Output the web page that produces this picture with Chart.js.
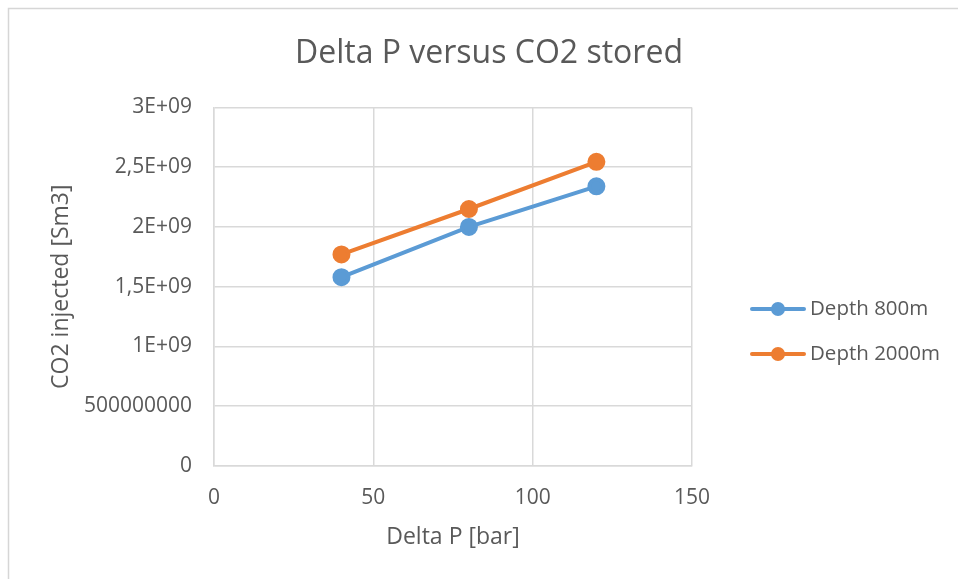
<!DOCTYPE html>
<html>
<head>
<meta charset="utf-8">
<script src="https://cdn.jsdelivr.net/npm/chart.js@4/dist/chart.umd.min.js"></script>
<style>
  html, body { margin: 0; padding: 0; background: #fff; }
  #wrap { position: relative; width: 958px; height: 579px; }
</style>
</head>
<body>
<div id="wrap"><canvas id="chart" width="958" height="579"></canvas></div>
<script>
// Pressure difference (bar) on the x axis
const deltaP = [40, 80, 120];
// CO2 injected (Sm3) for each well depth
const depth800 = [1.58e9, 2.0e9, 2.34e9];
const depth2000 = [1.77e9, 2.15e9, 2.545e9];
const seriesNames = ['Depth 800m', 'Depth 2000m'];
const seriesColors = ['#5B9BD5', '#ED7D31'];
// Y tick labels in Excel's comma-decimal style, from 0 upwards
const yTickLabels = ['0', '500000000', '1E+09', '1,5E+09', '2E+09', '2,5E+09', '3E+09'];
const xTickLabels = ['0', '50', '100', '150'];

const FONT = '"Open Sans", "Liberation Sans", sans-serif';
const TEXT = '#595959';
const GRID = '#d9d9d9';

const toPoints = (ys) => deltaP.map((x, i) => ({ x, y: ys[i] }));

// White page with a thin frame on the top and left edges
const framePlugin = {
  id: 'frame',
  beforeDraw(chart) {
    const ctx = chart.ctx;
    ctx.save();
    ctx.fillStyle = '#ffffff';
    ctx.fillRect(0, 0, chart.width, chart.height);
    ctx.strokeStyle = '#d6d6d6';
    ctx.lineWidth = 1.5;
    ctx.beginPath();
    ctx.moveTo(8.5, chart.height);
    ctx.lineTo(8.5, 8.5);
    ctx.lineTo(chart.width, 8.5);
    ctx.stroke();
    ctx.restore();
  }
};

// Legend at the right: line with a marker, then the series name
const sideLegend = {
  id: 'sideLegend',
  afterDraw(chart) {
    const ctx = chart.ctx;
    const x0 = 752, x1 = 804, textX = 810;
    const rows = [309, 354];
    ctx.save();
    chart.data.datasets.forEach((ds, i) => {
      const y = rows[i];
      ctx.strokeStyle = ds.borderColor;
      ctx.lineWidth = 4;
      ctx.lineCap = 'round';
      ctx.beginPath();
      ctx.moveTo(x0, y);
      ctx.lineTo(x1, y);
      ctx.stroke();
      ctx.fillStyle = ds.pointBackgroundColor;
      ctx.beginPath();
      ctx.arc((x0 + x1) / 2, y, 7, 0, Math.PI * 2);
      ctx.fill();
      ctx.fillStyle = TEXT;
      ctx.font = '20.5px ' + FONT;
      ctx.textBaseline = 'middle';
      ctx.textAlign = 'left';
      ctx.fillText(ds.label, textX, y);
    });
    ctx.restore();
  }
};

const datasets = [depth800, depth2000].map((vals, i) => ({
  label: seriesNames[i],
  data: toPoints(vals),
  borderColor: seriesColors[i],
  backgroundColor: seriesColors[i],
  pointBackgroundColor: seriesColors[i],
  pointBorderColor: seriesColors[i],
  pointRadius: 7,
  pointHoverRadius: 7,
  borderWidth: 4,
  showLine: true,
  tension: 0
}));

new Chart(document.getElementById('chart'), {
  type: 'scatter',
  data: { datasets },
  plugins: [framePlugin, sideLegend],
  options: {
    responsive: false,
    animation: false,
    devicePixelRatio: 1,
    layout: { padding: { left: 20, right: 0, top: 0, bottom: 0 } },
    plugins: {
      legend: { display: false },
      tooltip: { enabled: false },
      title: {
        display: true,
        text: 'Delta P versus CO2 stored',
        color: TEXT,
        font: { family: FONT, size: 32, weight: 'normal', lineHeight: 1.2 },
        padding: { top: 35, bottom: 34 }
      }
    },
    scales: {
      x: {
        type: 'linear',
        min: 0, max: 150,
        afterFit(s) { s.height = 113; },
        afterBuildTicks(s) { s.ticks = xTickLabels.map(v => ({ value: Number(v) })); },
        ticks: {
          color: TEXT,
          padding: 19,
          font: { family: FONT, size: 21 },
          callback: (v, i) => xTickLabels[i]
        },
        grid: { color: GRID, lineWidth: 1.5, drawTicks: false },
        border: { color: GRID, width: 1.5 },
        title: {
          display: true,
          text: 'Delta P [bar]',
          color: TEXT,
          font: { family: FONT, size: 23 },
          padding: { top: 0, bottom: 28 }
        }
      },
      y: {
        type: 'linear',
        min: 0, max: 3e9,
        afterFit(s) { s.width = 194; },
        afterBuildTicks(s) { s.ticks = yTickLabels.map((_, i) => ({ value: i * 5e8 })); },
        ticks: {
          color: TEXT,
          padding: 22,
          font: { family: FONT, size: 21 },
          callback: (v, i) => yTickLabels[i]
        },
        grid: { color: GRID, lineWidth: 1.5, drawTicks: false },
        border: { color: GRID, width: 1.5 },
        title: {
          display: true,
          text: 'CO2 injected [Sm3]',
          color: TEXT,
          font: { family: FONT, size: 23 },
          padding: { top: 28, bottom: 0 }
        }
      },
      // Empty band on the right that holds the legend
      legendSpace: {
        type: 'linear',
        position: 'right',
        display: true,
        afterFit(s) { s.width = 266; },
        ticks: { display: false },
        grid: { display: false, drawTicks: false },
        border: { display: false }
      }
    }
  }
});
</script>
</body>
</html>
